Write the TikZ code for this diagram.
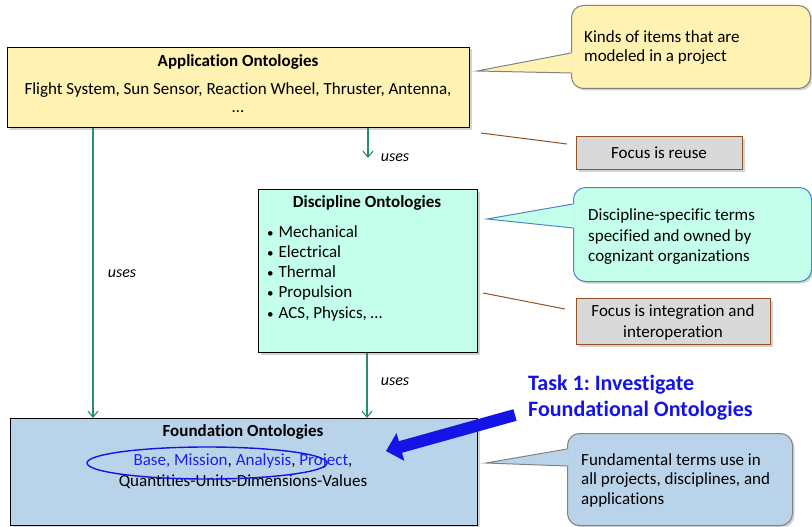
\documentclass[tikz,border=0pt]{standalone}
\usepackage{fontspec}
\setmainfont{Carlito}[Ligatures=NoCommon]
\usetikzlibrary{arrows.meta,shadows,calc}
\AtBeginDocument{\frenchspacing}
\definecolor{appfill}{RGB}{255,242,179}
\definecolor{discfill}{RGB}{196,255,236}
\definecolor{foundfill}{RGB}{185,212,234}
\definecolor{focusfill}{RGB}{217,217,217}
\definecolor{brownline}{RGB}{150,80,40}
\definecolor{usesteal}{RGB}{40,140,110}
\definecolor{taskblue}{RGB}{20,20,230}
\definecolor{textblue}{RGB}{30,30,235}
\definecolor{calloutblue}{RGB}{80,130,200}
\definecolor{calloutgray}{RGB}{130,130,130}
\newcommand\myfnt{\fontsize{17}{20.5}\selectfont\frenchspacing}
\newcommand\mybul{{\fontsize{13}{13}\selectfont•}\hspace{5pt}}
\tikzset{
  mybox/.style={draw=black, line width=1pt, rectangle, anchor=north west, inner sep=0pt,
    drop shadow={opacity=0.35, shadow xshift=2pt, shadow yshift=-2pt}},
  callbox/.style={rectangle, rounded corners=12pt, line width=1pt, anchor=north west, inner sep=0pt,
    drop shadow={opacity=0.35, shadow xshift=2pt, shadow yshift=-2pt}},
  focusbox/.style={draw=brownline, fill=focusfill, line width=1pt, rectangle, anchor=north west, inner sep=0pt,
    drop shadow={opacity=0.35, shadow xshift=2pt, shadow yshift=-2pt}},
  txt/.style={inner sep=0pt, font=\myfnt},
  ttl/.style={inner sep=0pt, font=\myfnt\bfseries},
  usesarrow/.style={draw=usesteal, line width=1.1pt, -{Straight Barb[length=6pt,width=10pt]}},
  useslbl/.style={inner sep=0pt, font=\fontsize{16}{19}\selectfont\itshape},
  brownlink/.style={draw=brownline, line width=1pt},
  tasklbl/.style={inner sep=0pt, anchor=west, font=\fontsize{22}{26}\selectfont\bfseries\frenchspacing, text=taskblue},
}
\begin{document}
\begin{tikzpicture}[x=1pt,y=-1pt]
\useasboundingbox (0,0) rectangle (812,527);

% main boxes
\node[mybox, fill=appfill, minimum width=462pt, minimum height=80pt] (app) at (7,47) {};
\node[mybox, fill=discfill, minimum width=219pt, minimum height=163pt] (disc) at (258,189) {};
\node[mybox, fill=foundfill, minimum width=467pt, minimum height=107pt] (found) at (10,418) {};

% application text
\node[ttl] (apptitle) at (238,62) {Application Ontologies};
\node[txt] (appline) at (238,90) {Flight System, Sun Sensor, Reaction Wheel, Thruster, Antenna,};
\node[txt] (appdots) at (238,112) {…};

% discipline text
\node[ttl] (disctitle) at (367,203) {Discipline Ontologies};
\node[txt, anchor=west] (b1) at (267,232) {\mybul Mechanical};
\node[txt, anchor=west] (b2) at (267,252) {\mybul Electrical};
\node[txt, anchor=west] (b3) at (267,272) {\mybul Thermal};
\node[txt, anchor=west] (b4) at (267,293) {\mybul Propulsion};
\node[txt, anchor=west] (b5) at (267,314) {\mybul ACS, Physics, …};

% foundation text
\node[ttl] (foundtitle) at (243,432) {Foundation Ontologies};
\node[txt] (foundline) at (243,461) {{\color{textblue}Base, Mission}, {\color{textblue}Analysis}, {\color{textblue}Project},};
\node[txt] (foundline2) at (243,482) {Quantities-Units-Dimensions-Values};
\draw[taskblue, line width=1.4pt] (207,463) ellipse [x radius=120pt, y radius=16pt];

% uses arrows
\coordinate (a1e) at (368,158);
\draw[usesarrow] (368,0 |- app.south) -- (a1e);
\node[useslbl] (u1) at (395,158) {uses};
\draw[usesarrow] (93,0 |- app.south) -- (93,0 |- found.north);
\node[useslbl] (u2) at (122,274) {uses};
\draw[usesarrow] (367,0 |- disc.south) -- (367,0 |- found.north);
\node[useslbl] (u3) at (395,382) {uses};

% callout 1
\node[callbox, fill=appfill, draw=calloutgray, minimum width=239pt, minimum height=83pt] (c1) at (571,5) {};
\coordinate (c1tip) at (477,71);
\fill[appfill] (572.6,53) -- (c1tip) -- (572.6,73) -- cycle;
\draw[calloutgray, line width=1pt] (571,53) -- (c1tip) -- (571,73);
\node[txt, anchor=west] (c1l1) at (584,37) {Kinds of items that are};
\node[txt, anchor=west] (c1l2) at (584,57) {modeled in a project};

% focus 1
\node[focusbox, minimum width=166pt, minimum height=33pt] (f1) at (576,136) {};
\node[txt] (f1t) at (659,153) {Focus is reuse};
\coordinate (l1s) at (481,133);
\coordinate (l1e) at (567,144);
\draw[brownlink] (l1s) -- (l1e);

% callout 2
\node[callbox, fill=discfill, draw=calloutblue, minimum width=238pt, minimum height=94pt] (c2) at (573,187) {};
\coordinate (c2tip) at (487,219);
\fill[discfill] (574.6,204) -- (c2tip) -- (574.6,228) -- cycle;
\draw[calloutblue, line width=1pt] (573,204) -- (c2tip) -- (573,228);
\node[txt, anchor=west] (c2l1) at (588,216) {Discipline-specific terms};
\node[txt, anchor=west] (c2l2) at (588,237) {specified and owned by};
\node[txt, anchor=west] (c2l3) at (588,257) {cognizant organizations};

% focus 2
\node[focusbox, minimum width=194pt, minimum height=46pt] (f2) at (576,298) {};
\node[txt] (f2t1) at (673,312) {Focus is integration and};
\node[txt] (f2t2) at (673,333) {interoperation};
\coordinate (l2s) at (483,293);
\coordinate (l2e) at (565,309);
\draw[brownlink] (l2s) -- (l2e);

% callout 3
\node[callbox, fill=foundfill, draw=calloutgray, minimum width=225pt, minimum height=92pt] (c3) at (567,433) {};
\coordinate (c3tip) at (486,463);
\fill[foundfill] (568.6,449) -- (c3tip) -- (568.6,466) -- cycle;
\draw[calloutgray, line width=1pt] (567,449) -- (c3tip) -- (567,466);
\node[txt, anchor=west] (c3l1) at (581,460) {Fundamental terms use in};
\node[txt, anchor=west] (c3l2) at (581,480) {all projects, disciplines, and};
\node[txt, anchor=west] (c3l3) at (581,500) {applications};

% task
\node[tasklbl] (task1) at (528,385) {Task 1: Investigate};
\node[tasklbl] (task2) at (528,411) {Foundational Ontologies};
\coordinate (bat) at (515,415);
\coordinate (bah) at (386,451);
\draw[taskblue, line width=12pt, -{Triangle[length=15pt,width=28pt]}] (bat) -- (bah);
\end{tikzpicture}
\end{document}
